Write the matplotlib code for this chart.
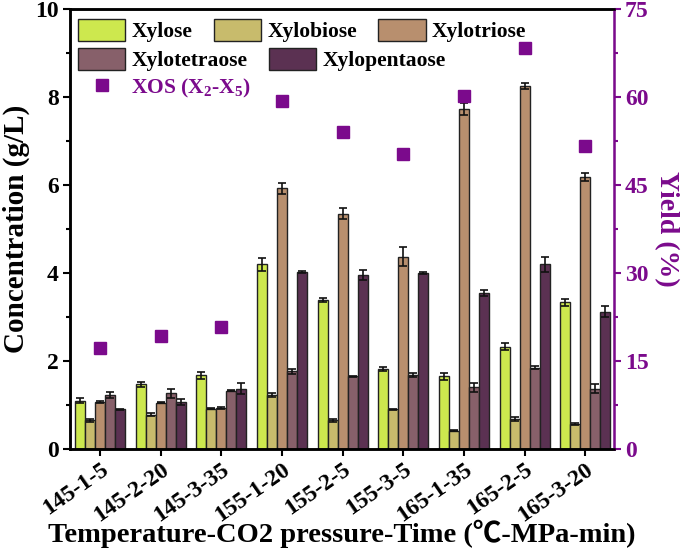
import numpy as np
import matplotlib
matplotlib.use("Agg")
import matplotlib.pyplot as plt
from matplotlib.patches import Patch
from matplotlib.lines import Line2D
from matplotlib.ticker import MultipleLocator

plt.rcParams['font.family'] = ['Liberation Serif', 'Noto Sans CJK SC', 'DejaVu Sans']
plt.rcParams['font.weight'] = 'bold'
plt.rcParams['mathtext.fontset'] = 'custom'
plt.rcParams['mathtext.rm'] = 'Liberation Serif:bold'
plt.rcParams['mathtext.bf'] = 'Liberation Serif:bold'
plt.rcParams['mathtext.default'] = 'bf'

# data
conditions = ['145-1-5', '145-2-20', '145-3-35', '155-1-20', '155-2-5',
              '155-3-5', '165-1-35', '165-2-5', '165-3-20']
sugars = ['Xylose', 'Xylobiose', 'Xylotriose', 'Xylotetraose', 'Xylopentaose']
xylose = [1.10, 1.47, 1.68, 4.20, 3.38, 1.82, 1.65, 2.32, 3.33]
xylobiose = [0.65, 0.78, 0.92, 1.23, 0.65, 0.90, 0.42, 0.68, 0.57]
xylotriose = [1.07, 1.05, 0.93, 5.92, 5.35, 4.37, 7.72, 8.25, 6.18]
xylotetraose = [1.23, 1.27, 1.33, 1.77, 1.65, 1.68, 1.40, 1.85, 1.37]
xylopentaose = [0.90, 1.07, 1.37, 4.02, 3.95, 4.00, 3.55, 4.20, 3.12]
err_xylose = [0.05, 0.05, 0.08, 0.15, 0.05, 0.05, 0.08, 0.08, 0.07]
err_xylobiose = [0.04, 0.04, 0.02, 0.04, 0.03, 0.01, 0.01, 0.04, 0.03]
err_xylotriose = [0.03, 0.01, 0.02, 0.12, 0.13, 0.22, 0.14, 0.07, 0.08]
err_xylotetraose = [0.07, 0.10, 0.02, 0.06, 0.01, 0.05, 0.10, 0.03, 0.10]
err_xylopentaose = [0.01, 0.06, 0.13, 0.03, 0.11, 0.02, 0.07, 0.17, 0.13]
xos_yield = [17.2, 19.3, 20.8, 59.3, 54.0, 50.3, 60.1, 68.3, 51.6]

colors = ['#cde84e', '#c8bb6c', '#b88f6e', '#87606a', '#5b3152']
purple = '#7b0a8c'

values = [xylose, xylobiose, xylotriose, xylotetraose, xylopentaose]
errors = [err_xylose, err_xylobiose, err_xylotriose, err_xylotetraose, err_xylopentaose]

fig = plt.figure(figsize=(6.85, 5.49), dpi=100)
ax = fig.add_axes([0.102, 0.182, 0.794, 0.802])
ax2 = ax.twinx()

x = np.arange(len(conditions))
w = 0.165
for i, (vals, errs) in enumerate(zip(values, errors)):
    ax.bar(x + (i - 2) * w, vals, w, yerr=errs, color=colors[i],
           edgecolor='#222222', linewidth=1.0, capsize=3,
           error_kw=dict(elinewidth=1.2, capthick=1.2, ecolor='#111111'))

ax2.plot(x, xos_yield, 's', color=purple, markersize=8, linestyle='none')

ax.set_xlim(-0.5, 8.47)
ax.set_ylim(0, 10)
ax2.set_ylim(0, 75)
ax.yaxis.set_major_locator(MultipleLocator(2))
ax.yaxis.set_minor_locator(MultipleLocator(1))
ax2.yaxis.set_major_locator(MultipleLocator(15))
ax2.yaxis.set_minor_locator(MultipleLocator(7.5))

ax.set_xticks(x)
ax.set_xticklabels(conditions, rotation=35, ha='right', rotation_mode='anchor',
                   fontsize=17)
ax.tick_params(axis='x', direction='out', length=5, width=1.5, pad=2)
ax.tick_params(axis='y', which='major', direction='out', length=5, width=1.5,
               labelsize=17, pad=3)
ax.tick_params(axis='y', which='minor', direction='out', length=3, width=1.5)
ax2.tick_params(axis='y', which='major', direction='out', length=5, width=1.5,
                colors=purple, labelsize=17, pad=3)
ax2.tick_params(axis='y', which='minor', direction='out', length=3, width=1.5,
                colors=purple)

for s in ['left', 'top', 'bottom']:
    ax.spines[s].set_linewidth(1.8)
    ax2.spines[s].set_linewidth(1.8)
ax2.spines['right'].set_linewidth(1.8)
ax2.spines['right'].set_color(purple)

ax.set_ylabel('Concentration (g/L)', fontsize=21, fontweight='bold', labelpad=4)
ax2.set_ylabel('Yield (%)', fontsize=20, fontweight='bold', color=purple,
               rotation=270, labelpad=22)
ax.set_xlabel('Temperature-CO2 pressure-Time (℃-MPa-min)', fontsize=20.5,
              fontweight='bold', va='baseline')
ax.xaxis.set_label_coords(0.5, -0.212)

handles = [Patch(facecolor=c, edgecolor='#222222', linewidth=1.0) for c in colors]
leg_kw = dict(frameon=False, handlelength=2.2, handleheight=1.15, handletextpad=0.28,
              columnspacing=1.0, borderpad=0, borderaxespad=0,
              prop={'size': 15.5, 'weight': 'bold'})
leg1 = ax2.legend(handles[:3], sugars[:3], ncol=3, loc='center left',
                  bbox_to_anchor=(0.015, 0.95), **leg_kw)
ax2.add_artist(leg1)
leg2 = ax2.legend(handles[3:], sugars[3:], ncol=2, loc='center left',
                  bbox_to_anchor=(0.015, 0.884), **leg_kw)
ax2.add_artist(leg2)
xos_handle = Line2D([], [], marker='s', color=purple, markersize=8, linestyle='none')
leg3 = ax2.legend([xos_handle], ['XOS (X$_2$-X$_5$)'], loc='center left',
                  bbox_to_anchor=(0.015, 0.82), **leg_kw)
for t in leg3.get_texts():
    t.set_color(purple)

fig.savefig('out.png', dpi=100)
